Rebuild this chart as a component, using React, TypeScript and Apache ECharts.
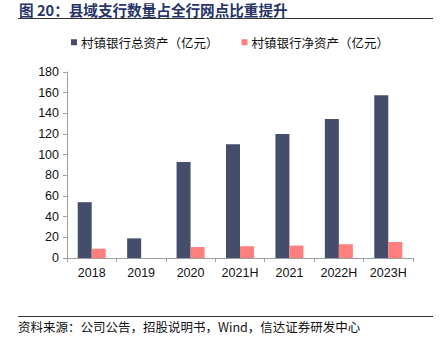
import React, { useEffect, useRef } from "react";
import * as echarts from "echarts";

const categories = ["2018", "2019", "2020", "2021H", "2021", "2022H", "2023H"];
const totalAssets = [54, 19, 93, 110, 120, 134.5, 157.5];
const netAssets = [9, null, 10.6, 11.4, 12, 13.3, 15.5];
const seriesNames = ["村镇银行总资产（亿元）", "村镇银行净资产（亿元）"];
const titleText = "图 20：县域支行数量占全行网点比重提升";
const sourceText = "资料来源：公司公告，招股说明书，Wind，信达证券研发中心";

const FONT = "'Noto Sans CJK SC', 'Liberation Sans', Arial, sans-serif";

export default function App() {
  const ref = useRef<HTMLDivElement>(null);
  useEffect(() => {
    if (!ref.current) return;
    const chart = echarts.init(ref.current, null, { renderer: "svg" });
    chart.setOption({
      animation: false,
      textStyle: { fontFamily: FONT },
      legend: {
        data: seriesNames,
        left: 66,
        top: 31,
        itemWidth: 6,
        itemHeight: 6,
        itemGap: 23,
        icon: "rect",
        textStyle: { fontSize: 12.5, color: "#111", fontFamily: FONT, padding: [0, 0, 0, -1] },
      },
      grid: { left: 67, right: 32, top: 72, bottom: 88, containLabel: false },
      xAxis: {
        type: "category",
        data: categories,
        axisLine: { lineStyle: { color: "#a0a0a0", width: 1 } },
        axisTick: { show: true, inside: false, length: 4, lineStyle: { color: "#a0a0a0" } },
        axisLabel: { color: "#111", fontSize: 12.5, margin: 8, fontFamily: "'Liberation Sans', Arial, sans-serif" },
      },
      yAxis: {
        type: "value",
        min: 0,
        max: 180,
        interval: 20,
        axisLine: { show: true, lineStyle: { color: "#a0a0a0", width: 1 } },
        axisTick: { show: true, length: 4, lineStyle: { color: "#a0a0a0" } },
        splitLine: { show: false },
        axisLabel: { color: "#111", fontSize: 12.5, margin: 8, fontFamily: "'Liberation Sans', Arial, sans-serif" },
      },
      series: [
        {
          name: seriesNames[0],
          type: "bar",
          data: totalAssets,
          barWidth: 14,
          barGap: "0%",
          itemStyle: { color: "#444d6c" },
        },
        {
          name: seriesNames[1],
          type: "bar",
          data: netAssets,
          barWidth: 14,
          barGap: "0%",
          itemStyle: { color: "#ff7f7f" },
        },
      ],
      graphic: [
        {
          type: "text",
          left: 19,
          top: 2,
          style: {
            text: titleText,
            fontSize: 14.6,
            fontWeight: "bold",
            fill: "#26346a",
            fontFamily: FONT,
          },
        },
        {
          type: "line",
          shape: { x1: 18, y1: 18.5, x2: 433, y2: 18.5 },
          style: { stroke: "#333", lineWidth: 1 },
        },
        {
          type: "line",
          shape: { x1: 18, y1: 316.5, x2: 433, y2: 316.5 },
          style: { stroke: "#333", lineWidth: 1 },
        },
        {
          type: "text",
          left: 18,
          top: 320,
          style: {
            text: sourceText,
            fontSize: 12.5,
            fill: "#111",
            fontFamily: FONT,
          },
        },
      ],
    });
    return () => chart.dispose();
  }, []);
  return <div ref={ref} style={{ width: 445, height: 346, position: "absolute", left: 0, top: 0 }} />;
}
